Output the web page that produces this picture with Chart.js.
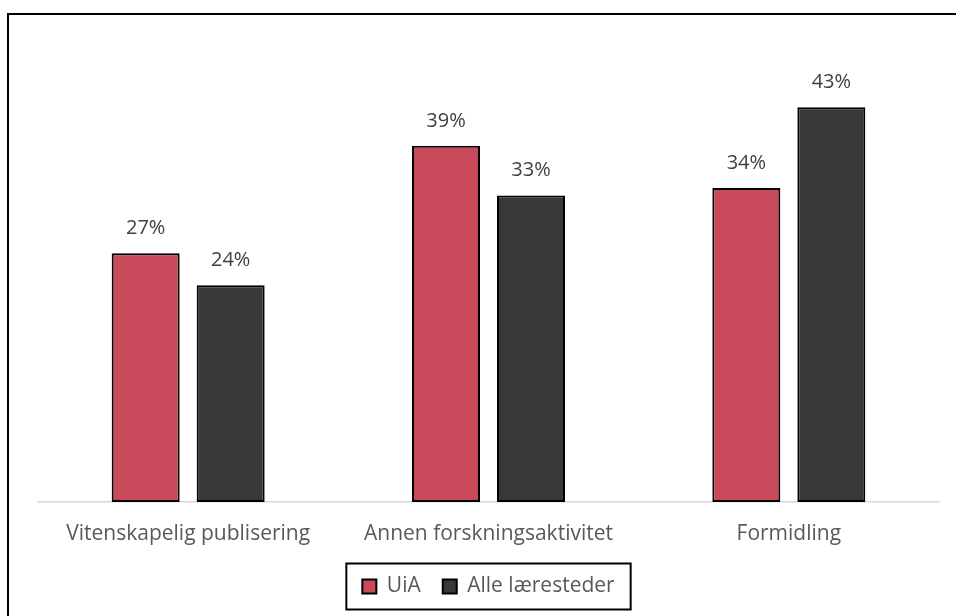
<!DOCTYPE html>
<html>
<head>
<meta charset="utf-8">
<script src="https://cdn.jsdelivr.net/npm/chart.js"></script>
<style>
	body { margin: 0; background: #fff; overflow: hidden; }
	#ramme { position: absolute; left: 7px; top: 13px; width: 960px; height: 620px; border-left: 2px solid #000; border-top: 2px solid #000; }
	#boks { position: absolute; left: 0; top: 0; width: 947px; height: 601px; }
</style>
</head>
<body>
<div id="ramme">
	<div id="boks"><canvas id="stolper"></canvas></div>
</div>
<script>
	var kategorier = ['Vitenskapelig publisering', 'Annen forskningsaktivitet', 'Formidling'];
	var uia = [27.1, 38.8, 34.2];
	var alle = [23.6, 33.4, 43.0];
	var serieNavn = ['UiA', 'Alle læresteder'];

	var skrift = "'Open Sans', sans-serif";

	// tall over stolpene
	var verdiEtiketter = {
		id: 'verdiEtiketter',
		afterDatasetsDraw: function(chart) {
			var ctx = chart.ctx;
			ctx.save();
			ctx.font = '20px ' + skrift;
			ctx.fillStyle = '#404040';
			ctx.textAlign = 'center';
			ctx.textBaseline = 'middle';
			chart.data.datasets.forEach(function(ds, i) {
				chart.getDatasetMeta(i).data.forEach(function(bar, j) {
					ctx.fillText(Math.round(ds.data[j]) + '%', bar.x, bar.y - 25);
				});
			});
			ctx.restore();
		}
	};

	// ramme rundt forklaringen
	var forklaringRamme = {
		id: 'forklaringRamme',
		afterDraw: function(chart) {
			var bokser = chart.legend.legendHitBoxes;
			if (!bokser || !bokser.length) return;
			var v = Math.min.apply(null, bokser.map(function(b) { return b.left; }));
			var h = Math.max.apply(null, bokser.map(function(b) { return b.left + b.width; }));
			var midt = bokser[0].top + bokser[0].height / 2;
			var ctx = chart.ctx;
			ctx.save();
			ctx.strokeStyle = '#000';
			ctx.lineWidth = 2;
			ctx.strokeRect(v - 16, midt - 23, (h - v) + 32, 46);
			ctx.restore();
		}
	};

	new Chart(document.getElementById('stolper'), {
		type: 'bar',
		data: {
			labels: kategorier,
			datasets: [{
				label: serieNavn[0],
				data: uia,
				backgroundColor: '#C84A5A',
				borderColor: '#000',
				borderWidth: 2,
				borderSkipped: false,
				categoryPercentage: 0.566,
				barPercentage: 0.8
			}, {
				label: serieNavn[1],
				data: alle,
				backgroundColor: '#383838',
				borderColor: '#000',
				borderWidth: 2,
				borderSkipped: false,
				categoryPercentage: 0.566,
				barPercentage: 0.8
			}]
		},
		options: {
			responsive: true,
			maintainAspectRatio: false,
			animation: false,
			layout: { padding: { left: 29, right: 17, top: 28, bottom: 9 } },
			scales: {
				x: {
					grid: { display: false },
					border: { color: '#D9D9D9', width: 1.5 },
					ticks: { color: '#595959', font: { family: skrift, size: 21 }, padding: 11, maxRotation: 0 },
					afterFit: function(s) { s.height = 52; }
				},
				y: { display: false, min: 0, max: 50 }
			},
			plugins: {
				tooltip: { enabled: false },
				legend: {
					position: 'bottom',
					labels: {
						color: '#595959',
						font: { family: skrift, size: 21 },
						boxWidth: 14,
						boxHeight: 14,
						padding: 22
					}
				}
			}
		},
		plugins: [verdiEtiketter, forklaringRamme]
	});
</script>
</body>
</html>
